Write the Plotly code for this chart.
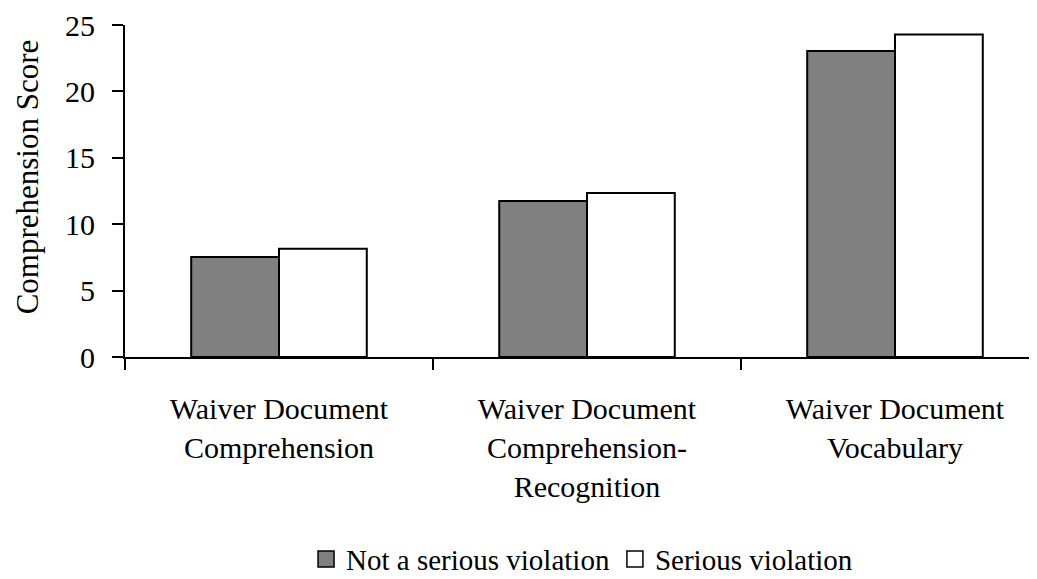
import plotly.graph_objects as go

categories = ["Waiver Document<br>Comprehension",
              "Waiver Document<br>Comprehension-<br>Recognition",
              "Waiver Document<br>Vocabulary"]
not_serious = [7.53, 11.75, 23.04]
serious = [8.16, 12.35, 24.28]
series_names = ["Not a serious violation", "Serious violation"]
series_colors = ["#808080", "white"]
y_ticks = [0, 5, 10, 15, 20, 25]

FONT = "Liberation Serif"

fig = go.Figure()
for name, vals, col in zip(series_names, [not_serious, serious], series_colors):
    fig.add_trace(go.Bar(x=categories, y=vals, name=name, showlegend=False,
                         marker=dict(color=col, line=dict(color="black", width=2))))
    # legend-only entry with a larger square swatch
    fig.add_trace(go.Scatter(x=[None], y=[None], name=name, mode="markers",
                             marker=dict(symbol="square", size=16, color=col,
                                         line=dict(color="black", width=1.5))))

fig.update_layout(
    width=1037, height=579,
    margin=dict(l=117, r=8, t=17, b=230, pad=0, autoexpand=False),
    paper_bgcolor="white", plot_bgcolor="white",
    barmode="group", bargap=0.43, bargroupgap=0,
    font=dict(family=FONT, size=30, color="black"),
    showlegend=True,
    legend=dict(orientation="h", xref="container", yref="container",
                x=0.2874, xanchor="left", y=0.048, yanchor="middle",
                font=dict(family=FONT, size=29), itemwidth=30,
                itemsizing="trace", itemclick=False, traceorder="normal"),
    annotations=[dict(text="Comprehension Score", textangle=-90,
                      xref="paper", yref="paper", x=-0.1075, y=0.544,
                      xanchor="center", yanchor="middle", showarrow=False,
                      font=dict(family=FONT, size=31))],
)
fig.update_xaxes(
    type="category", range=[-0.5, -0.5 + 912 / 308], automargin=False,
    showline=True, linecolor="black", linewidth=2,
    ticks="outside", ticklen=11, tickwidth=2, tickcolor="black",
    tickson="boundaries", showgrid=False, zeroline=False,
    tickfont=dict(family=FONT, size=30), ticklabelstandoff=24,
)
fig.update_yaxes(
    range=[0, 25], tickvals=y_ticks, automargin=False,
    showline=True, linecolor="black", linewidth=2,
    ticks="outside", ticklen=11, tickwidth=2, tickcolor="black",
    showgrid=False, zeroline=False, ticklabelstandoff=11,
    tickfont=dict(family=FONT, size=30),
)

fig.write_html("out.html")
